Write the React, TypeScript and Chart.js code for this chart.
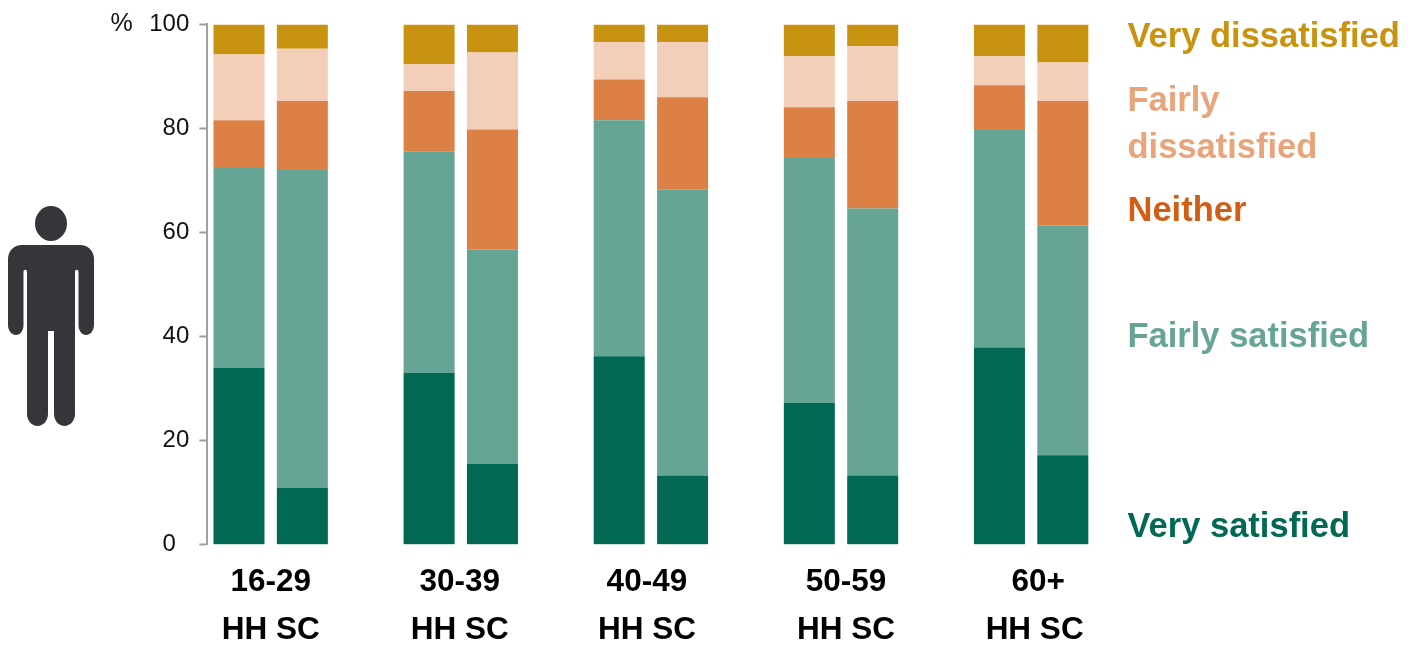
import React, { useEffect, useRef } from "react";
import { Chart, registerables } from "chart.js";

Chart.register(...registerables);

// Each age band holds a household (HH) and a social care (SC) bar; blanks separate the bands.
const categories = ["HH", "SC", "", "HH", "SC", "", "HH", "SC", "", "HH", "SC", "", "HH", "SC"];
const ageBands = ["16-29", "30-39", "40-49", "50-59", "60+"];

const verySatisfied = [34, 10.9, null, 33, 15.5, null, 36.2, 13.3, null, 27.3, 13.3, null, 37.9, 17.2];
const fairlySatisfied = [38.4, 61.1, null, 42.5, 41.2, null, 45.4, 54.9, null, 47, 51.3, null, 41.8, 44.1];
const neither = [9.2, 13.3, null, 11.7, 23.1, null, 7.8, 17.8, null, 9.8, 20.7, null, 8.6, 24];
const fairlyDissatisfied = [12.6, 10, null, 5.2, 14.8, null, 7.2, 10.6, null, 9.8, 10.5, null, 5.6, 7.4];
const veryDissatisfied = [5.8, 4.7, null, 7.6, 5.4, null, 3.4, 3.4, null, 6.1, 4.2, null, 6.1, 7.3];

const yTicks = [0, 20, 40, 60, 80, 100];

const FONT = '"Liberation Sans", Arial, sans-serif';

// Horizontal nudges for the two rows of labels under each band.
const bandNudge = [0, -1, -4, 5, 7];
const keyNudge = [0, -1, -4, 5, 3.5];

const keyLabels = [
  { text: "Very dissatisfied", y: 37, color: "#c99312" },
  { text: "Fairly", y: 101, color: "#e8a57c" },
  { text: "dissatisfied", y: 148, color: "#e8a57c" },
  { text: "Neither", y: 211, color: "#d15e14" },
  { text: "Fairly satisfied", y: 337, color: "#66a596" },
  { text: "Very satisfied", y: 527, color: "#006853" },
];

const annotations = {
  id: "annotations",
  afterDraw(chart: any) {
    const { ctx, scales } = chart;
    ctx.save();
    ctx.textBaseline = "middle";

    ctx.fillStyle = "#111111";
    ctx.font = `25px ${FONT}`;
    ctx.textAlign = "left";
    ctx.fillText("%", 110.5, 24.5);

    ctx.fillStyle = "#000000";
    ctx.font = `bold 31.5px ${FONT}`;
    ctx.textAlign = "center";
    ageBands.forEach((band, i) => {
      const center = (scales.x.getPixelForValue(i * 3) + scales.x.getPixelForValue(i * 3 + 1)) / 2;
      ctx.fillText(band, center + bandNudge[i], 582);
      ctx.fillText("HH SC", center + keyNudge[i], 630);
    });

    ctx.font = `bold 34.5px ${FONT}`;
    ctx.textAlign = "left";
    keyLabels.forEach((label) => {
      ctx.fillStyle = label.color;
      ctx.fillText(label.text, 1127.5, label.y);
    });
    ctx.restore();
  },
};

const personPath =
  "M22 245H80C88 245 94 251 94 259V325C94 331 90 335 86 335C82 335 78.500 331 78.500 325V272C78.500 269 75 269 75 272V414" +
  "C75 421 70 426 64.500 426C59 426 54 421 54 414V331H48V414C48 421 43 426 37.500 426C32 426 27 421 27 414V272" +
  "C27 269 23.500 269 23.500 272V325C23.500 331 20 335 16 335C12 335 8 331 8 325V259C8 251 14 245 22 245Z";

export default function App() {
  const canvasRef = useRef<HTMLCanvasElement>(null);

  useEffect(() => {
    const makeSeries = (label: string, data: (number | null)[], backgroundColor: string) => ({
      label,
      data,
      backgroundColor,
      borderWidth: 0,
      barPercentage: 0.805,
      categoryPercentage: 1,
    });

    const chart = new Chart(canvasRef.current!, {
      type: "bar",
      data: {
        labels: categories,
        datasets: [
          makeSeries("Very satisfied", verySatisfied, "#006853"),
          makeSeries("Fairly satisfied", fairlySatisfied, "#66a596"),
          makeSeries("Neither", neither, "#dc8046"),
          makeSeries("Fairly dissatisfied", fairlyDissatisfied, "#f3cfba"),
          makeSeries("Very dissatisfied", veryDissatisfied, "#c99312"),
        ],
      },
      options: {
        responsive: false,
        animation: false,
        layout: { padding: { left: 0, right: 324.5, top: 22.2, bottom: 101.3 } },
        plugins: { legend: { display: false }, tooltip: { enabled: false } },
        scales: {
          x: { stacked: true, display: false },
          y: {
            stacked: true,
            min: 0,
            max: 100,
            afterFit(scale: any) {
              scale.width = 207.3;
            },
            afterBuildTicks(scale: any) {
              scale.ticks = yTicks.map((value) => ({ value }));
            },
            border: { color: "#a0a0a0", width: 2 },
            grid: { drawOnChartArea: false, tickLength: 8, tickWidth: 2, tickColor: "#a0a0a0" },
            ticks: {
              color: "#111111",
              padding: 10,
              font: { family: FONT, size: 24 },
              // The zero label sits a little further left than the others.
              callback: (value: any) => (value === 0 ? "0  " : String(value)),
            },
          },
        },
      },
      plugins: [annotations],
    } as any);

    return () => chart.destroy();
  }, []);

  return (
    <div style={{ position: "absolute", left: 0, top: 0, width: 1419, height: 646, background: "#ffffff" }}>
      <canvas ref={canvasRef} width={1419} height={646} style={{ display: "block" }} />
      <svg
        width={1419}
        height={646}
        style={{ position: "absolute", left: 0, top: 0, pointerEvents: "none" }}
      >
        <ellipse cx={51} cy={223.5} rx={16} ry={17.5} fill="#35363a" />
        <path d={personPath} fill="#35363a" />
      </svg>
    </div>
  );
}
